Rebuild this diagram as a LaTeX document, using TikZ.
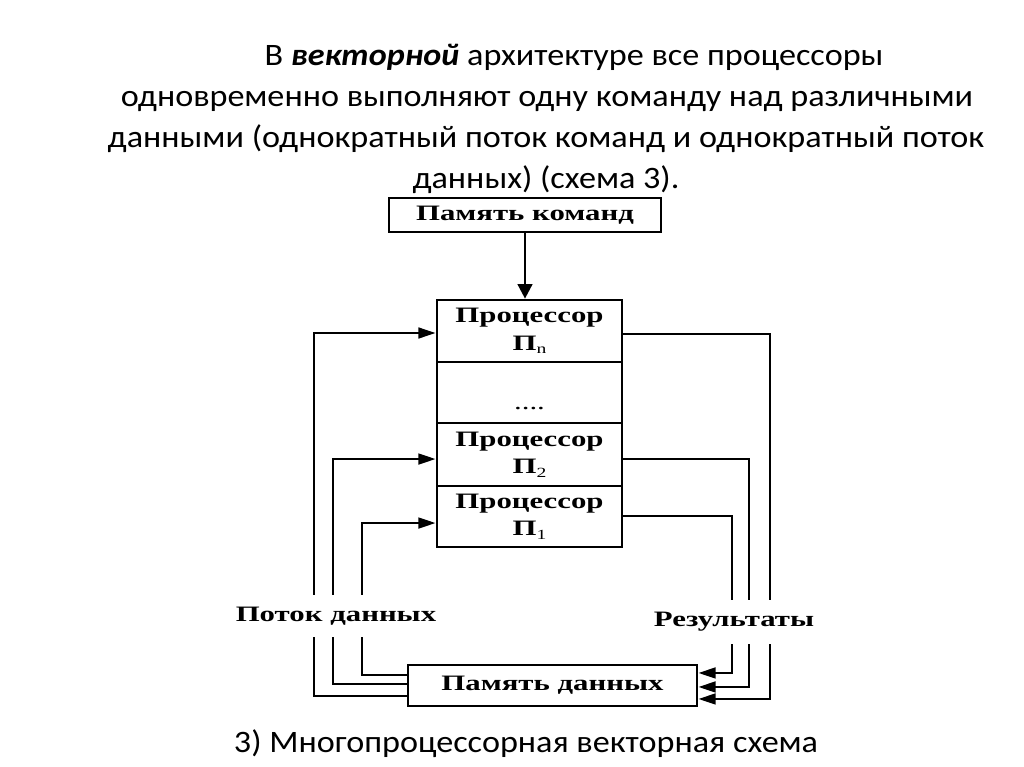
\documentclass[tikz,border=0pt]{standalone}
\usepackage{fontspec}
\usepackage{graphicx}
\setmainfont{Carlito}
\newfontfamily\tms{Liberation Serif}
\usetikzlibrary{arrows.meta}
\newcommand\dt[1]{\scalebox{1.4}[1]{#1}}
\newcommand\tl[1]{\scalebox{1.095}[1]{#1}}
\newcommand\sbs[1]{\raisebox{-0.35ex}{\fontsize{10.5}{10.5}\selectfont\mdseries #1}}
\begin{document}
\begin{tikzpicture}[x=0.75pt,y=-0.75pt,
  box/.style={draw,line width=2pt,inner sep=0pt,font=\tms\bfseries\fontsize{16.5}{20.5}\selectfont,align=center},
  con/.style={line width=2pt},
  arr/.style={con,-{Triangle[length=13pt,width=8pt]}},
  ttl/.style={font=\fontsize{23.4}{30}\selectfont,inner sep=0pt,anchor=base},
  lbl/.style={fill=white,font=\tms\bfseries\fontsize{16.5}{20}\selectfont,inner xsep=2pt,inner ysep=9pt}]
\useasboundingbox[fill=white] (0,0) rectangle (1024,767);
% title
\node[ttl] (t1) at (574,65) {\tl{В \textbf{\textit{векторной}} архитектуре все процессоры}};
\node[ttl] (t2) at (547,106) {\tl{одновременно выполняют одну команду над различными}};
\node[ttl] (t3) at (546,147) {\tl{данными (однократный поток команд и однократный поток}};
\node[ttl] (t4) at (546,188) {\tl{данных) (схема 3).}};
% boxes
\node[box,minimum width=204pt,minimum height=25.5pt] (cmd) at (525,215) {\dt{Память команд}};
\node[box,minimum width=138.75pt,minimum height=46.5pt] (pn) at (529.5,331) {\dt{Процессор}\\\dt{П\sbs{n}}};
\node[box,minimum width=138.75pt,minimum height=45.75pt] (dots) at (529.5,392.5) {\smash{\raisebox{-13pt}{\dt{\mdseries....}}}};
\node[box,minimum width=138.75pt,minimum height=47.25pt] (p2) at (529.5,454.5) {\dt{Процессор}\\\dt{П\sbs{2}}};
\node[box,minimum width=138.75pt,minimum height=45.75pt] (p1) at (529.5,516.5) {\dt{Процессор}\\\dt{П\sbs{1}}};
\node[box,minimum width=216.75pt,minimum height=30.75pt] (mem) at (552.5,685.5) {\dt{Память данных}};
% ports
\coordinate (ipn) at ([yshift=-1.5pt]pn.west);
\coordinate (ip2) at ([yshift=-3.4pt]p2.west);
\coordinate (ip1) at ([yshift=-4.9pt]p1.west);
\coordinate (opn) at ([yshift=-2.25pt]pn.east);
\coordinate (op2) at ([yshift=-3.4pt]p2.east);
\coordinate (op1) at ([yshift=0.5pt]p1.east);
\coordinate (mo1) at ([yshift=-7.9pt]mem.west);
\coordinate (mo2) at ([yshift=1.1pt]mem.west);
\coordinate (mo3) at ([yshift=7.9pt]mem.west);
\coordinate (mi1) at ([yshift=-10.1pt]mem.east);
\coordinate (mi2) at ([yshift=-1.1pt]mem.east);
\coordinate (mi3) at ([yshift=9.4pt]mem.east);
% column coordinates
\coordinate (l1) at (314,0);
\coordinate (l2) at (333,0);
\coordinate (l3) at (362,0);
\coordinate (r1) at (770,0);
\coordinate (r2) at (749,0);
\coordinate (r3) at (732,0);
% command arrow
\draw[con,-{Triangle[length=11pt,width=11pt]}] (cmd.south) -- (cmd.south |- pn.north);
% data flow
\draw[arr] (mo1) -| (l1 |- ipn) -- (ipn);
\draw[arr] (mo2) -| (l2 |- ip2) -- (ip2);
\draw[arr] (mo3) -| (l3 |- ip1) -- (ip1);
% results
\draw[arr] (opn) -| (r1 |- mi1) -- (mi1);
\draw[arr] (op2) -| (r2 |- mi2) -- (mi2);
\draw[arr] (op1) -| (r3 |- mi3) -- (mi3);
% labels
\node[lbl] (ld) at (336,616) {\dt{Поток данных}};
\node[lbl] (lr) at (734,622) {\dt{Результаты}};
% caption
\node[ttl] (cap) at (526,752) {\tl{3) Многопроцессорная векторная схема}};
\end{tikzpicture}
\end{document}
